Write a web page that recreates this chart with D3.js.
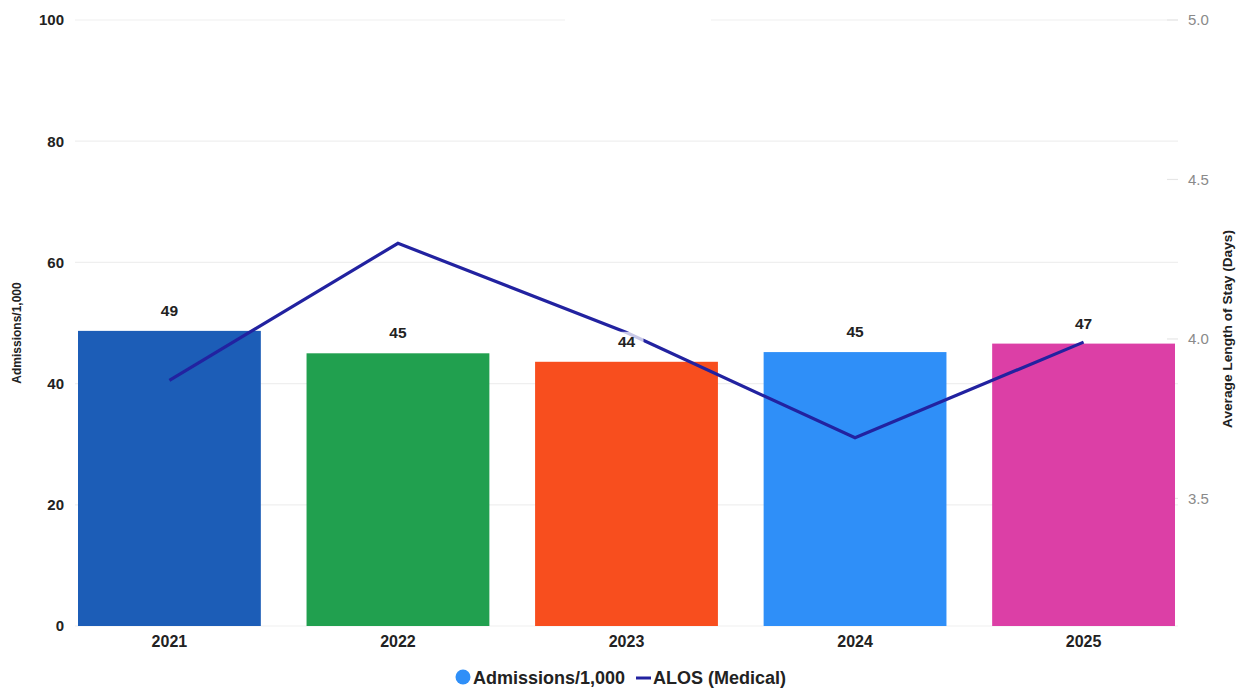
<!DOCTYPE html>
<html>
<head>
<meta charset="utf-8">
<script src="https://cdn.jsdelivr.net/npm/d3@7"></script>
<style>
  html, body { margin: 0; padding: 0; background: #fff; }
  svg { display: block; font-family: "Liberation Sans", Arial, sans-serif; }
</style>
</head>
<body>
<svg id="chart" width="1244" height="690"></svg>
<script>
// Admissions per 1,000 and average length of stay, by year
const years = ["2021", "2022", "2023", "2024", "2025"];
const admissions = [48.7, 45.0, 43.6, 45.2, 46.6];
const alos = [3.87, 4.30, 4.02, 3.69, 3.99];
const barColors = ["#1c5db7", "#21a04f", "#f84e1e", "#2f8ff8", "#dc3fa6"];
const leftTicks = [0, 20, 40, 60, 80, 100];
const rightTicks = [3.5, 4.0, 4.5, 5.0];
const lineColor = "#2222a0";

const svg = d3.select("#chart");
const plot = { left: 78, right: 1175, top: 20, bottom: 626 };

const x = d3.scaleBand().domain(years).range([plot.left, plot.right])
  .paddingInner(0.2).paddingOuter(0);
const yL = d3.scaleLinear().domain([0, 100]).range([plot.bottom, plot.top]);
const yR = d3.scaleLinear().domain([3.1, 5.0]).range([plot.bottom, plot.top]);

// Horizontal gridlines on the left axis
svg.append("g").selectAll("line").data(leftTicks).join("line")
  .attr("x1", 75).attr("x2", 1178)
  .attr("y1", d => yL(d)).attr("y2", d => yL(d))
  .attr("stroke", "#efefef").attr("stroke-width", 1.2);

// Blank band at the top centre of the frame
svg.append("rect").attr("x", 565).attr("y", 12).attr("width", 146).attr("height", 16)
  .attr("fill", "#fff");

// Left axis labels
const leftAxis = svg.append("g").attr("transform", `translate(${plot.left - 14},0)`)
  .call(d3.axisLeft(yL).tickValues(leftTicks).tickSize(0).tickPadding(0));
leftAxis.select(".domain").remove();
leftAxis.selectAll("text")
  .attr("font-size", 15).attr("font-weight", "bold").attr("fill", "#222")
  .attr("font-family", "Liberation Sans, Arial, sans-serif");

// Right axis labels with short tick marks
const rightAxis = svg.append("g").attr("transform", `translate(${plot.right + 3},0)`)
  .call(d3.axisRight(yR).tickValues(rightTicks).tickFormat(d3.format(".1f"))
    .tickSize(0).tickPadding(10));
rightAxis.select(".domain").remove();
rightAxis.selectAll("text")
  .attr("font-size", 15).attr("fill", "#8a8a8a")
  .attr("font-family", "Liberation Sans, Arial, sans-serif");
svg.append("g").selectAll("line").data(rightTicks).join("line")
  .attr("x1", plot.right - 8).attr("x2", plot.right + 3)
  .attr("y1", d => yR(d)).attr("y2", d => yR(d))
  .attr("stroke", "#e6e6e6").attr("stroke-width", 1.2);

// Bars
svg.append("g").selectAll("rect").data(years).join("rect")
  .attr("x", d => x(d)).attr("width", x.bandwidth())
  .attr("y", (d, i) => yL(admissions[i]))
  .attr("height", (d, i) => yL(0) - yL(admissions[i]))
  .attr("fill", (d, i) => barColors[i]);

// ALOS line
const line = d3.line()
  .x((d, i) => x(years[i]) + x.bandwidth() / 2)
  .y(d => yR(d));
svg.append("path").datum(alos)
  .attr("d", line).attr("fill", "none")
  .attr("stroke", lineColor).attr("stroke-width", 3.2)
  .attr("stroke-linejoin", "miter");

// Bar value labels with a soft backdrop
const fmt = d3.format(".0f");
const labels = svg.append("g").selectAll("g").data(years).join("g")
  .attr("transform", (d, i) =>
    `translate(${x(d) + x.bandwidth() / 2},${yL(admissions[i]) - 15})`);
labels.append("rect")
  .attr("x", -17).attr("y", -15).attr("width", 34).attr("height", 20)
  .attr("fill", "#fff").attr("fill-opacity", 0.75);
labels.append("text")
  .attr("text-anchor", "middle")
  .attr("font-size", 15.5).attr("font-weight", "bold").attr("fill", "#222")
  .text((d, i) => fmt(admissions[i]));

// Category labels
const xAxis = svg.append("g").attr("transform", `translate(0,${plot.bottom})`)
  .call(d3.axisBottom(x).tickSize(0).tickPadding(10));
xAxis.select(".domain").remove();
xAxis.selectAll("text")
  .attr("font-size", 16).attr("font-weight", "bold").attr("fill", "#222")
  .attr("font-family", "Liberation Sans, Arial, sans-serif");

// Axis titles
svg.append("text")
  .attr("transform", `translate(21,${(plot.top + plot.bottom) / 2 + 10}) rotate(-90)`)
  .attr("text-anchor", "middle")
  .attr("font-size", 12).attr("font-weight", "bold").attr("fill", "#222")
  .text("Admissions/1,000");
svg.append("text")
  .attr("transform", `translate(1232,${(plot.top + plot.bottom) / 2 + 6}) rotate(-90)`)
  .attr("text-anchor", "middle")
  .attr("font-size", 13.7).attr("font-weight", "bold").attr("fill", "#222")
  .text("Average Length of Stay (Days)");

// Legend
const legend = svg.append("g").attr("transform", "translate(0,677)");
legend.append("circle").attr("cx", 463).attr("cy", 0).attr("r", 7.5).attr("fill", "#2f8ff8");
legend.append("text").attr("x", 473).attr("y", 6.5)
  .attr("font-size", 18).attr("font-weight", "bold").attr("fill", "#222")
  .text("Admissions/1,000");
legend.append("line").attr("x1", 636).attr("x2", 651).attr("y1", 1).attr("y2", 1)
  .attr("stroke", lineColor).attr("stroke-width", 3);
legend.append("text").attr("x", 653).attr("y", 6.5)
  .attr("font-size", 18).attr("font-weight", "bold").attr("fill", "#222")
  .text("ALOS (Medical)");
</script>
</body>
</html>
